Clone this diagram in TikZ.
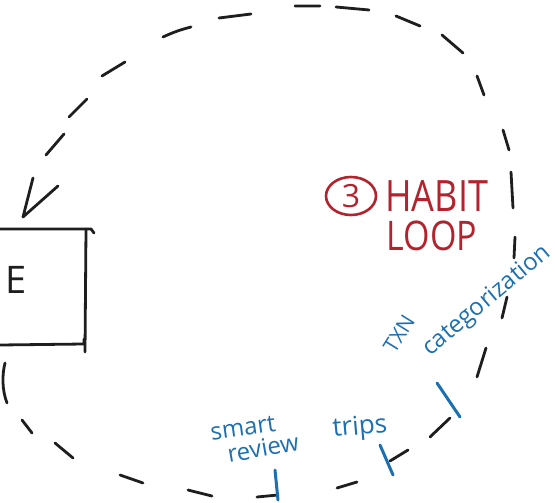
\documentclass[tikz,border=0pt]{standalone}
\usepackage{fontspec}
\setmainfont{Open Sans}
\usepackage{tikz}
\usetikzlibrary{shapes.geometric,positioning}

\definecolor{ink}{RGB}{30,30,30}
\definecolor{markerred}{RGB}{180,35,45}
\definecolor{markerblue}{RGB}{28,112,178}

\tikzset{
  pen/.style={draw=ink, line width=1.4pt, line cap=round, line join=round},
  bluepen/.style={draw=markerblue, line width=1.5pt, line cap=round},
  redlabel/.style={text=markerred, inner sep=0pt, font=\fontsize{18}{18}\selectfont},
  bluelabel/.style={text=markerblue, inner sep=0pt, font=\fontsize{12}{12}\selectfont},
}

\begin{document}
\begin{tikzpicture}[x=0.5pt, y=-0.5pt]
    \useasboundingbox (0,0) rectangle (555,502);

    % Box on the left edge
    \draw[pen] (0,229) -- (91,229) -- (94,233);
    \draw[pen] (86,229) -- (85,352);
    \draw[pen] (0,345) -- (84,344) -- (84,339);
    \node[text=ink, inner sep=0pt, font=\fontsize{19}{19}\selectfont] (e) at (16,280) {E};

    % The loop, dash by dash
    \draw[pen] (46,155) -- (64,134)
               (69,117) -- (87,99)
               (102,76) -- (125,62)
               (163,37) to[bend left=5] (191,27)
               (219,18) -- (251,14)
               (295,6) -- (320,6)
               (336,7) -- (369,10)
               (396,16) -- (420,26)
               (442,35) -- (463,53)
               (477,76) -- (484,95)
               (503,130) -- (509,150)
               (511,172) -- (513,208)
               (515,237) -- (514,258)
               (507,297) -- (502,318)
               (486,348) -- (477,377)
               (450,418) -- (430,437)
               (408,450) -- (390,461)
               (357,482) -- (337,488)
               (278,495) -- (257,497)
               (212,496) -- (188,490)
               (143,483) -- (120,475)
               (73,458) -- (55,443)
               (32,433) -- (22,420)
               (7,403) .. controls (2,390) and (2,375) .. (5,363);
    % Arrow into the box
    \draw[pen] (58,186) -- (23,217) -- (33,178);

    % Habit loop title
    \node[draw=markerred, line width=1.3pt, ellipse, minimum width=25pt, minimum height=19pt,
          inner sep=0pt, text=markerred, font=\fontsize{16}{16}\selectfont] (three) at (351,196) {3};
    \node[redlabel, anchor=west] (habit) at (385,196) {\scalebox{1}[1.2]{HABIT}};
    \node[redlabel, font=\fontsize{17}{17}\selectfont] (loop) at (432,236) {\scalebox{1}[1.2]{LOOP}};

    % Stops along the loop
    \draw[bluepen] (275,470) -- (278,500);
    \draw[bluepen] (380,445) -- (393,475);
    \draw[bluepen] (437,383) -- (460,417);
    \node[bluelabel, rotate=8] (smart) at (243,428) {smart};
    \node[bluelabel, rotate=10] (review) at (263,448) {review};
    \node[bluelabel, rotate=5, font=\fontsize{13}{13}\selectfont] (trips) at (360,428) {trips};
    \node[bluelabel, rotate=58, font=\fontsize{10.5}{10.5}\selectfont] (txn) at (399,334) {TXN};
    \node[bluelabel, rotate=40] (categ) at (487,301) {categorization};
\end{tikzpicture}
\end{document}
